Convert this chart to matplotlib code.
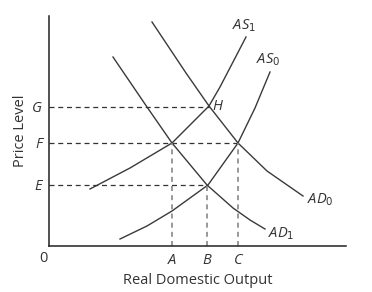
import matplotlib.pyplot as plt

plt.rcParams['font.family'] = ['Open Sans', 'DejaVu Sans']

# output levels (A, B, C) and price levels (E, F, G)
x_levels = [123, 158, 189]
x_names = ["A", "B", "C"]
y_levels = [61, 103, 139]
y_names = ["E", "F", "G"]

# curves, points
ad1_x = [64, 98, 123, 158, 184, 201, 216]
ad1_y = [189, 139, 103, 61, 38, 26, 17]
ad0_x = [103, 137, 160, 189, 218, 254]
ad0_y = [224, 173, 140, 103, 75, 50]
as1_x = [41, 81, 123, 160, 171, 184, 197]
as1_y = [57, 78, 103, 140, 159, 184, 209]
as0_x = [71, 98, 123, 159, 189, 206, 221]
as0_y = [7, 20, 35, 61, 103, 138, 174]

fig = plt.figure(figsize=(3.72, 2.92), dpi=100)
ax = fig.add_axes([49 / 372, 46 / 292, 297 / 372, 230 / 292])
ax.set_xlim(0, 297)
ax.set_ylim(0, 230)

for s in ["top", "right"]:
    ax.spines[s].set_visible(False)
for s in ["left", "bottom"]:
    ax.spines[s].set_linewidth(1.1)
    ax.spines[s].set_color("#222222")

curve_color = "#3a3a3a"
for cx, cy in [(ad1_x, ad1_y), (ad0_x, ad0_y), (as1_x, as1_y), (as0_x, as0_y)]:
    ax.plot(cx, cy, color=curve_color, lw=1.0, solid_joinstyle="round")

# horizontal guides from axis to the equilibrium points
h_ends = [158, 189, 160]
for y, xe in zip(y_levels, h_ends):
    ax.plot([0, xe], [y, y], color="#333333", lw=0.9, ls=(0, (4, 3)))
# vertical guides
v_ends = [103, 61, 103]
for x, ye in zip(x_levels, v_ends):
    ax.plot([x, x], [0, ye], color="#888888", lw=1.2, ls=(0, (3, 2.5)))

ax.set_xticks(x_levels)
ax.set_xticklabels(x_names, fontstyle="italic", fontsize=10.5, color="#333333")
ax.set_yticks(y_levels)
ax.set_yticklabels(y_names, fontstyle="italic", fontsize=10.5, color="#333333")
ax.tick_params(length=0, pad=5)
ax.tick_params(axis="y", pad=5)

ax.text(-6, -12, "0", ha="center", va="center", fontsize=10.5, color="#333333", clip_on=False)
ax.set_xlabel("Real Domestic Output", fontsize=10.5, color="#333333", labelpad=4)
ax.set_ylabel("Price Level", fontsize=10.5, color="#333333", labelpad=3)

lab = dict(fontstyle="italic", fontsize=10.5, color="#333333", ha="left", va="center")
ax.text(183, 220, r"AS$_1$", **lab)
ax.text(207, 186, r"AS$_0$", **lab)
ax.text(163, 139, "H", **lab)
ax.text(258, 46, r"AD$_0$", **lab)
ax.text(219, 12, r"AD$_1$", **lab)

fig.savefig("out.png", dpi=100)
